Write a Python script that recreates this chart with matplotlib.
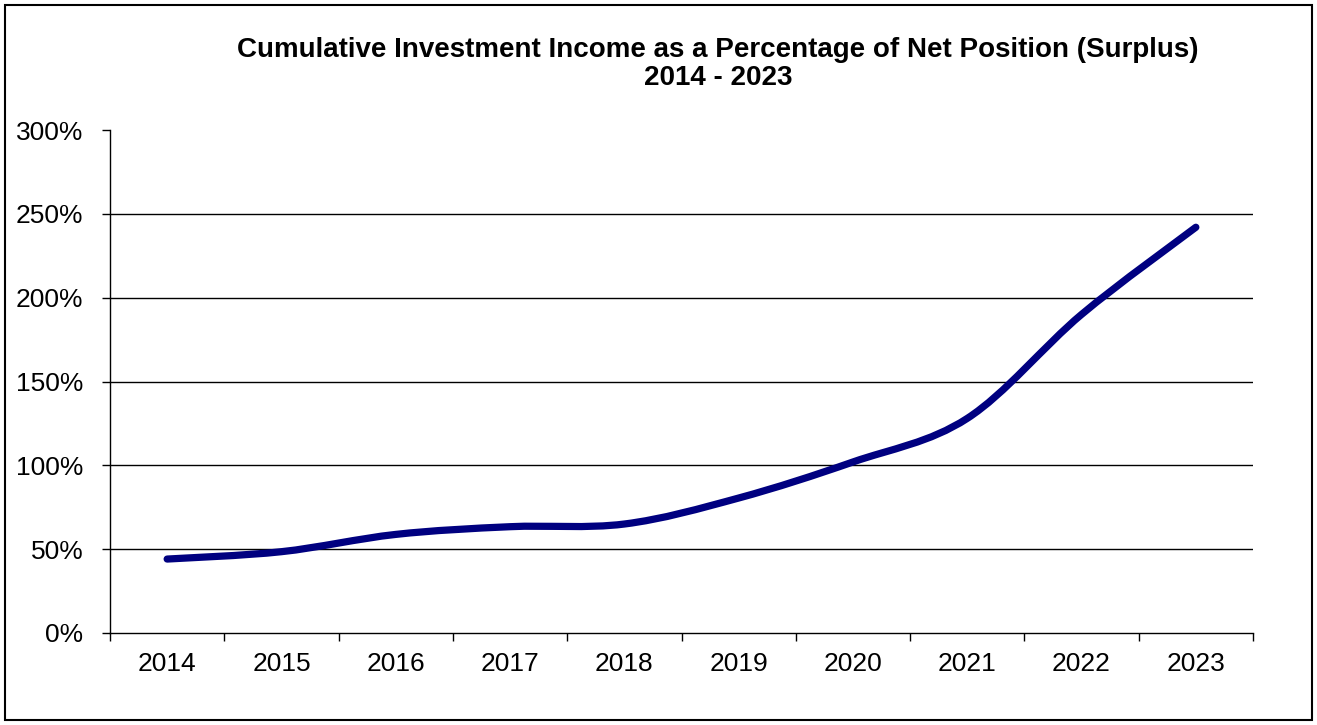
import matplotlib
matplotlib.use("Agg")
import matplotlib.pyplot as plt
from matplotlib.path import Path
from matplotlib.patches import PathPatch, Rectangle
from matplotlib.ticker import FixedLocator, FuncFormatter

years = ["2014", "2015", "2016", "2017", "2018", "2019", "2020", "2021", "2022", "2023"]
values = [44.1, 48.5, 58.8, 63.4, 65.0, 80.5, 102.0, 128.0, 190.0, 242.0]
y_ticks = [0, 50, 100, 150, 200, 250, 300]
title_text = "Cumulative Investment Income as a Percentage of Net Position (Surplus)\n2014 - 2023"

plt.rcParams['font.family'] = ['Liberation Sans', 'DejaVu Sans']

W, H = 1317, 725
fig = plt.figure(figsize=(W / 100, H / 100), dpi=100)
ax = fig.add_axes([110 / W, 1 - 633 / H, (1253 - 110) / W, (633 - 130) / H])

# smooth line (Excel-style Bezier smoothing through the data points)
xs = list(range(len(values)))
pts = list(zip(xs, values))
verts = [pts[0]]
codes = [Path.MOVETO]
n = len(pts)
for i in range(n - 1):
    p0 = pts[i - 1] if i > 0 else pts[i]
    p1 = pts[i]
    p2 = pts[i + 1]
    p3 = pts[i + 2] if i + 2 < n else pts[i + 1]
    c1 = (p1[0] + (p2[0] - p0[0]) / 6, p1[1] + (p2[1] - p0[1]) / 6)
    c2 = (p2[0] - (p3[0] - p1[0]) / 6, p2[1] - (p3[1] - p1[1]) / 6)
    verts += [c1, c2, p2]
    codes += [Path.CURVE4] * 3
patch = PathPatch(Path(verts, codes), facecolor="none", edgecolor="#000080",
                  linewidth=5.2, capstyle="round", joinstyle="round", zorder=3)
ax.add_patch(patch)

ax.set_xlim(-0.5, len(years) - 0.5)
ax.set_ylim(0, 300)

# gridlines (no line at the top value)
for v in y_ticks[1:-1]:
    ax.axhline(v, color="black", linewidth=1.0, zorder=1)

ax.yaxis.set_major_locator(FixedLocator(y_ticks))
ax.yaxis.set_major_formatter(FuncFormatter(lambda v, p: f"{int(v)}%"))
ax.xaxis.set_major_locator(FixedLocator([i - 0.5 for i in range(len(years) + 1)]))
ax.xaxis.set_major_formatter(FuncFormatter(lambda v, p: ""))
ax.xaxis.set_minor_locator(FixedLocator(xs))
ax.set_xticklabels(years, minor=True)
ax.tick_params(axis="x", which="major", direction="out", length=6, width=1.0, color="black")
ax.tick_params(axis="x", which="minor", length=0, pad=13.5, labelsize=19)
ax.tick_params(axis="y", which="major", direction="out", length=6, width=1.0, pad=13, labelsize=19)

for s in ["top", "right"]:
    ax.spines[s].set_visible(False)
for s in ["left", "bottom"]:
    ax.spines[s].set_linewidth(1.0)
    ax.spines[s].set_color("black")

fig.text(718 / W, 1 - 64 / H, title_text, ha="center", va="center",
         fontsize=20, fontweight="bold", linespacing=1.1)

fig.patches.append(Rectangle((5 / W, 5 / H), (1312 - 5) / W, (720 - 5) / H,
                             transform=fig.transFigure, fill=False,
                             edgecolor="black", linewidth=1.5))

fig.savefig("out.png", dpi=100)
